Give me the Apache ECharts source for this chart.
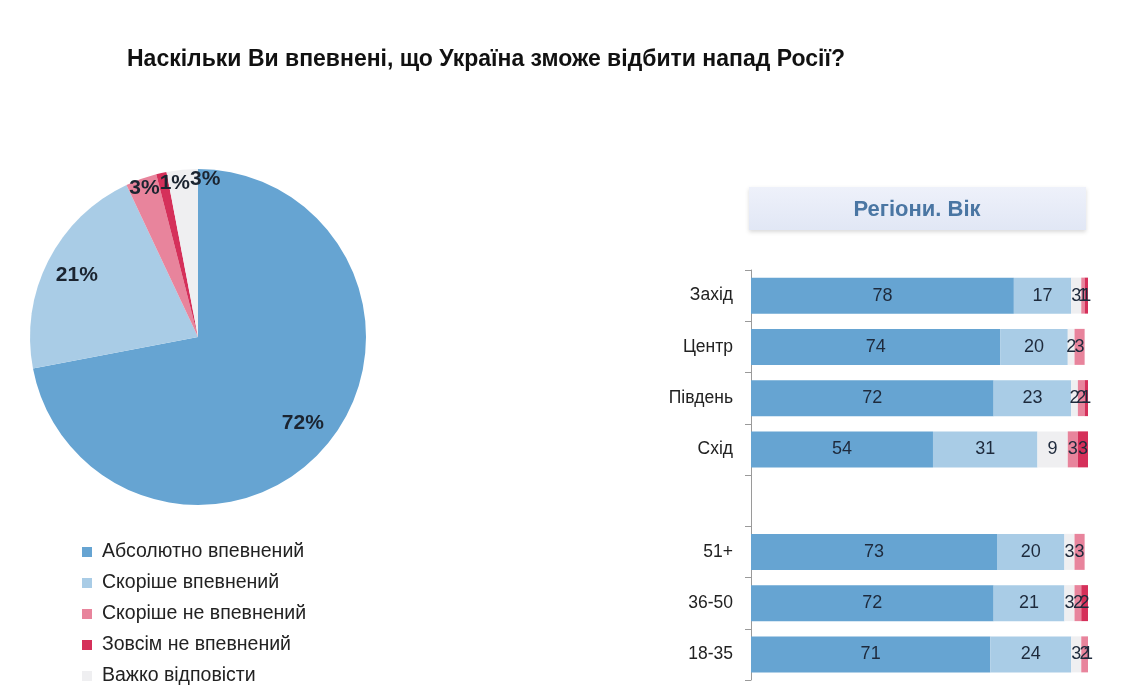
<!DOCTYPE html>
<html>
<head>
<meta charset="utf-8">
<script src="https://cdn.jsdelivr.net/npm/echarts@6/dist/echarts.min.js"></script>
<style>
  html, body { margin: 0; padding: 0; background: #fff; }
  #chart { width: 1139px; height: 698px; }
</style>
</head>
<body>
<div id="chart"></div>
<script>
const answerNames = ['Абсолютно впевнений', 'Скоріше впевнений', 'Скоріше не впевнений', 'Зовсім не впевнений', 'Важко відповісти'];
const pieValues = [72, 21, 3, 1, 3];

const categories = ['Захід', 'Центр', 'Південь', 'Схід', '', '51+', '36-50', '18-35'];
const absolutely = [78, 74, 72, 54, null, 73, 72, 71];
const rather = [17, 20, 23, 31, null, 20, 21, 24];
const hard = [3, 2, 2, 9, null, 3, 3, 3];
const ratherNot = [1, 3, 2, 3, null, 3, 2, 2];
const notAtAll = [1, 0, 1, 3, null, 0, 2, 1];

const colors = {
  'Абсолютно впевнений': '#66a4d2',
  'Скоріше впевнений': '#a9cce6',
  'Скоріше не впевнений': '#e8849c',
  'Зовсім не впевнений': '#d5305a',
  'Важко відповісти': '#efeff1'
};

const font = 'Liberation Sans, Arial, sans-serif';
const chart = echarts.init(document.getElementById('chart'));

const pieData = answerNames.map((name, i) => ({
  name, value: pieValues[i], itemStyle: { color: colors[name] }
}));

// transparent pie ring used only to place labels at a given radius
function labelRing(radius, test) {
  return {
    type: 'pie',
    silent: true,
    center: [198, 337],
    radius,
    startAngle: 90,
    z: 5,
    data: answerNames.map((name, i) => ({ name, value: pieValues[i] })),
    itemStyle: { color: 'transparent' },
    label: {
      show: true,
      position: 'inside',
      color: '#1b2430',
      fontSize: 21,
      fontWeight: 'bold',
      fontFamily: font,
      formatter: p => test(p.value) ? p.value + '%' : ''
    },
    labelLayout: { hideOverlap: false, moveOverlap: 'shiftX' },
    labelLine: { show: false },
    emphasis: { disabled: true },
    tooltip: { show: false }
  };
}

const barLabel = {
  show: true,
  position: 'inside',
  color: '#1e2a3c',
  fontSize: 18,
  fontFamily: font,
  formatter: p => p.value ? String(p.value) : ''
};

const barSeries = [
  ['Абсолютно впевнений', absolutely],
  ['Скоріше впевнений', rather],
  ['Важко відповісти', hard],
  ['Скоріше не впевнений', ratherNot],
  ['Зовсім не впевнений', notAtAll]
].map(([name, data]) => ({
  name,
  type: 'bar',
  stack: 'total',
  barWidth: 36,
  data,
  itemStyle: { color: colors[name] },
  label: barLabel
}));

chart.setOption({
  backgroundColor: '#fff',
  animation: false,
  title: {
    text: 'Наскільки Ви впевнені, що Україна зможе відбити напад Росії?',
    left: 122,
    top: 43,
    textStyle: {
      fontSize: 23,
      fontWeight: 'bold',
      color: '#111',
      fontFamily: font
    }
  },
  legend: {
    orient: 'vertical',
    left: 77,
    top: 537,
    icon: 'rect',
    itemWidth: 10,
    itemHeight: 10,
    itemGap: 11,
    data: answerNames,
    textStyle: {
      fontSize: 19.5,
      color: '#222',
      fontFamily: font,
      padding: [0, 0, 0, 5]
    },
    selectedMode: false
  },
  graphic: [
    {
      type: 'rect',
      shape: { x: 749, y: 187, width: 337, height: 43 },
      style: {
        fill: new echarts.graphic.LinearGradient(0, 0, 0, 1, [
          { offset: 0, color: '#eef1fa' },
          { offset: 1, color: '#e1e7f5' }
        ]),
        shadowBlur: 4,
        shadowOffsetY: 2,
        shadowColor: 'rgba(0,0,0,0.15)'
      }
    },
    {
      type: 'text',
      x: 917,
      y: 210,
      style: {
        text: 'Регіони. Вік',
        align: 'center',
        verticalAlign: 'middle',
        fill: '#4a76a3',
        fontSize: 22,
        fontWeight: 'bold',
        fontFamily: font
      }
    }
  ],
  grid: { left: 751, right: 51, top: 270, bottom: 18 },
  xAxis: {
    type: 'value',
    min: 0,
    max: 100,
    show: false
  },
  yAxis: {
    type: 'category',
    inverse: true,
    data: categories,
    axisLine: { show: true, lineStyle: { color: '#9a9a9a' } },
    axisTick: { show: true, length: 6, lineStyle: { color: '#9a9a9a' } },
    axisLabel: {
      color: '#222',
      fontSize: 17.5,
      margin: 18,
      fontFamily: font
    },
    splitLine: { show: false }
  },
  series: [
    {
      name: 'Загалом',
      type: 'pie',
      center: [198, 337],
      radius: [0, 168],
      startAngle: 90,
      data: pieData,
      label: { show: false },
      labelLine: { show: false },
      emphasis: { disabled: true }
    },
    labelRing([98, 168], v => v >= 10),
    labelRing([140, 170], v => v < 10),
    ...barSeries
  ]
});
</script>
</body>
</html>
